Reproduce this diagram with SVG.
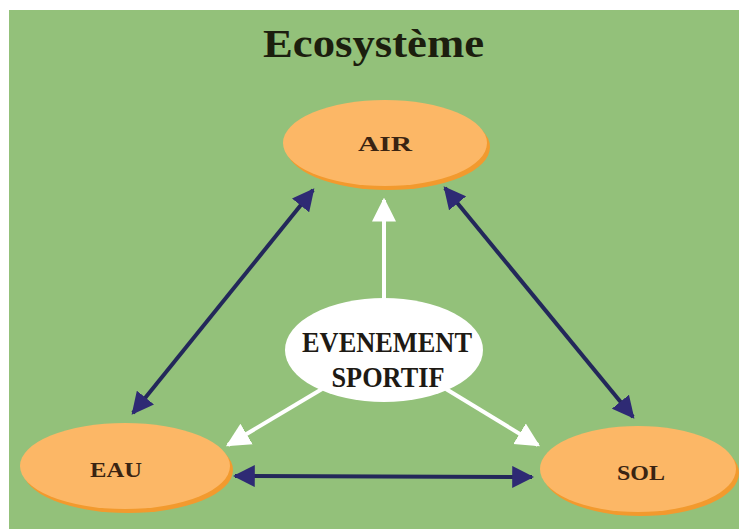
<svg xmlns="http://www.w3.org/2000/svg" width="739" height="529" viewBox="0 0 739 529">
<defs>
<style>
.lbl{font-family:"Liberation Serif","Times New Roman",serif;font-weight:bold;fill:#3a2412;text-anchor:middle}
.ev{font-family:"Liberation Serif","Times New Roman",serif;font-weight:bold;fill:#1e1a14;text-anchor:middle}
.shadow{fill:#f29a2e}
.oval{fill:#fcb766}
.dark{stroke:#23285a;stroke-width:4;fill:none}
.white{stroke:#ffffff;stroke-width:4;fill:none}
</style>
<marker id="hd" viewBox="0 0 10 10" refX="9" refY="5" markerWidth="5.5" markerHeight="5.5" markerUnits="strokeWidth" orient="auto-start-reverse">
<path d="M0,0 L10,5 L0,10 z" fill="#2e2a74"/>
</marker>
<marker id="hw" viewBox="0 0 10 10" refX="9" refY="5" markerWidth="6" markerHeight="6.5" markerUnits="strokeWidth" orient="auto">
<path d="M0,0 L10,5 L0,10 z" fill="#ffffff"/>
</marker>
</defs>
<rect x="0" y="0" width="739" height="529" fill="#ffffff"/>
<rect x="9" y="10" width="730" height="519" fill="#93c17a"/>
<text x="263" y="57" font-family="'Liberation Serif','Times New Roman',serif" font-weight="bold" font-size="41" fill="#1c1e0e" textLength="221" lengthAdjust="spacingAndGlyphs">Ecosystème</text>
<g id="connectors">
<line class="dark" x1="313" y1="190" x2="133" y2="413" marker-start="url(#hd)" marker-end="url(#hd)"/>
<line class="dark" x1="445" y1="188" x2="633" y2="417" marker-start="url(#hd)" marker-end="url(#hd)"/>
<line class="dark" x1="235" y1="476" x2="532" y2="477" marker-start="url(#hd)" marker-end="url(#hd)"/>
<line class="white" x1="384" y1="299" x2="384" y2="200" marker-end="url(#hw)"/>
<line class="white" x1="322" y1="389" x2="228" y2="445" marker-end="url(#hw)"/>
<line class="white" x1="446" y1="389" x2="538" y2="445" marker-end="url(#hw)"/>
</g>
<g id="air">
<ellipse class="shadow" cx="388" cy="147" rx="102" ry="43"/>
<ellipse class="oval" cx="385" cy="143" rx="102" ry="43"/>
<text class="lbl" x="385" y="151" font-size="21" textLength="54" lengthAdjust="spacingAndGlyphs">AIR</text>
</g>
<g id="eau">
<ellipse class="shadow" cx="128" cy="470" rx="105" ry="43"/>
<ellipse class="oval" cx="125" cy="466" rx="105" ry="43"/>
<text class="lbl" x="116" y="477" font-size="21" textLength="52" lengthAdjust="spacingAndGlyphs">EAU</text>
</g>
<g id="sol">
<ellipse class="shadow" cx="641" cy="473" rx="98" ry="43"/>
<ellipse class="oval" cx="638" cy="469" rx="98" ry="43"/>
<text class="lbl" x="641" y="480" font-size="21" textLength="48" lengthAdjust="spacingAndGlyphs">SOL</text>
</g>
<g id="evenement">
<ellipse cx="384" cy="350" rx="99" ry="52" fill="#ffffff"/>
<text class="ev" x="387" y="352" font-size="29" textLength="170" lengthAdjust="spacingAndGlyphs">EVENEMENT</text>
<text class="ev" x="388" y="387" font-size="29" textLength="113" lengthAdjust="spacingAndGlyphs">SPORTIF</text>
</g>
</svg>
